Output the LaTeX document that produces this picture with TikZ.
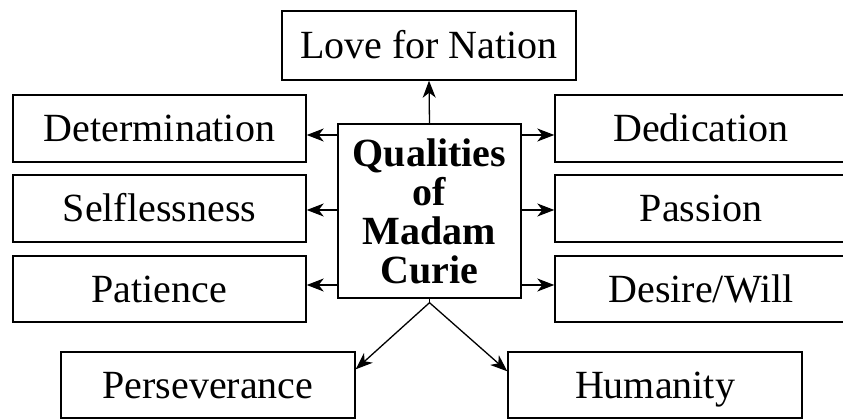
\documentclass[tikz,border=0pt]{standalone}
\usepackage{fontspec}
\setmainfont{Liberation Serif}
\usetikzlibrary{arrows.meta}
\tikzset{
  box/.style={draw, line width=1.4pt, inner sep=0pt, font=\fontsize{40}{46}\selectfont,
    text height=26.5pt, text depth=0pt, minimum height=67pt},
  centbox/.style={draw, line width=1.4pt, inner sep=0pt, align=center,
    font=\fontsize{40}{39}\selectfont\bfseries, minimum width=183pt, minimum height=174pt},
  arr/.style={line width=1.3pt, -{Stealth[length=17pt,width=13pt,inset=5pt]}}
}
\begin{document}
\begin{tikzpicture}[x=1pt,y=-1pt]
\clip (0,0) rectangle (843,419);
\fill[white] (0,0) rectangle (843,419);
\node[box, minimum width=294pt, minimum height=69pt] (love) at (429,45.5) {Love for Nation};
\node[box, minimum width=293pt] (det) at (159.5,128.5) {Determination};
\node[box, minimum width=293pt] (sel) at (159.5,208.5) {Selflessness};
\node[box, minimum width=293pt, minimum height=66pt] (pat) at (159.5,289) {Patience};
\node[box, minimum width=292pt] (ded) at (701,128.5) {Dedication};
\node[box, minimum width=292pt] (pas) at (701,208.5) {Passion};
\node[box, minimum width=292pt, minimum height=66pt] (des) at (701,289) {Desire/Will};
\node[centbox] (c) at (429.5,211) {Qualities\\of\\Madam\\Curie};
\node[box, minimum width=294pt, minimum height=66pt] (per) at (208,385) {Perseverance};
\node[box, minimum width=294pt, minimum height=66pt] (hum) at (655,385) {Humanity};
\coordinate (apex) at ([yshift=-4pt]c.south);
\draw[arr] (c.north) -- (love.south);
\draw[arr] (c.west |- 0,135) -- (det.east |- 0,135);
\draw[arr] (c.west |- 0,210) -- (sel.east |- 0,210);
\draw[arr] (c.west |- 0,285) -- (pat.east |- 0,285);
\draw[arr] (c.east |- 0,135) -- (ded.west |- 0,135);
\draw[arr] (c.east |- 0,210) -- (pas.west |- 0,210);
\draw[arr] (c.east |- 0,285) -- (des.west |- 0,285);
\draw[line width=1.3pt] (c.south) -- (apex);
\draw[arr] (apex) -- ([yshift=-18pt]per.north east);
\draw[arr] (apex) -- ([yshift=-20pt]hum.north west);
\end{tikzpicture}
\end{document}
